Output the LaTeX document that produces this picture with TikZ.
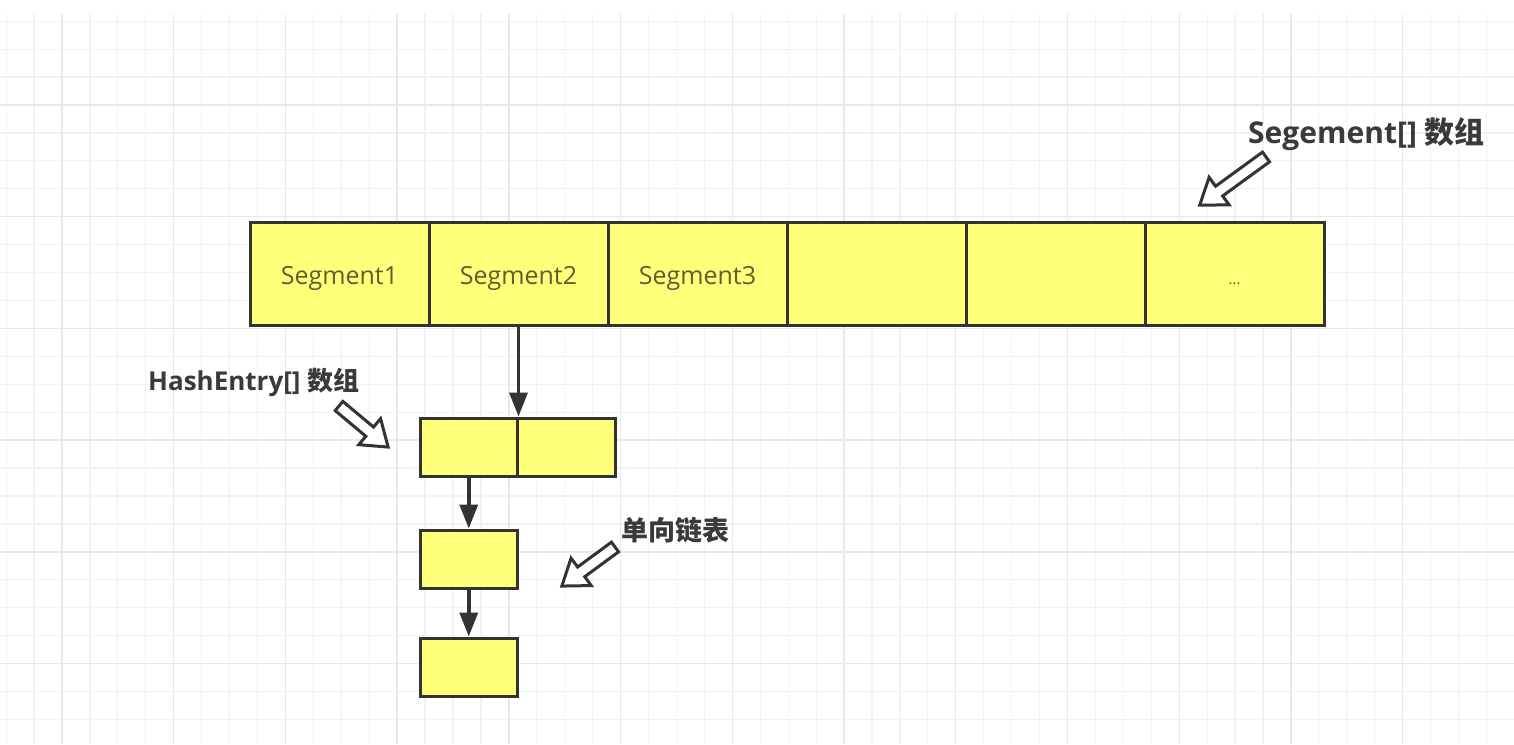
\documentclass[tikz,border=0pt]{standalone}
\usepackage{fontspec}
\setmainfont{Open Sans}
\newfontfamily\cjk{Noto Sans CJK SC}
\usetikzlibrary{arrows.meta}
\definecolor{cellfill}{HTML}{FFFF7A}
\definecolor{edge}{HTML}{333333}
\definecolor{celltxt}{HTML}{5E5E2E}
\definecolor{lbl}{HTML}{3A3A3A}
\definecolor{gminor}{HTML}{F2F2F2}
\definecolor{gmajor}{HTML}{E8E8E8}
\newcommand\blkarrow[4]{%
  \draw[blockarr, shift={(#1,#2)}, rotate=#3]
    (0,6) -- ({#4-24},6) -- ({#4-24},17) -- (#4,0) -- ({#4-24},-17) -- ({#4-24},-6) -- (0,-6) -- cycle;}
\tikzset{
  cell/.style={draw=edge, fill=cellfill, line width=3pt, minimum width=179pt, minimum height=103pt, inner sep=0pt},
  smallcell/.style={cell, minimum width=97.5pt, minimum height=58pt},
  celltext/.style={font=\fontsize{25}{28}\selectfont, text=celltxt, inner sep=0pt, anchor=base},
  lab/.style={text=lbl, inner sep=0pt, anchor=base west},
  conn/.style={draw=edge, line width=3.5pt, -{Triangle[length=24pt,width=18pt]}},
  blockarr/.style={draw=edge, fill=white, line width=3pt, line join=miter},
  minorgrid/.style={draw=gminor, line width=1.2pt},
  majorgrid/.style={draw=gmajor, line width=1.4pt},
}
\begin{document}
\begin{tikzpicture}[x=1pt, y=-1pt]
\fill[white] (0,0) rectangle (1514,744);
\useasboundingbox (0,0) rectangle (1514,744);
% grid
\begin{scope}
\clip (0,14) rectangle (1514,744);
\foreach \i in {-2,...,52} \draw[minorgrid] ({62+\i*27.93},14) -- ++(0,730);
\foreach \i in {-3,...,23} \draw[minorgrid] (0,{105+\i*27.93}) -- ++(1514,0);
\foreach \i in {0,...,13} \draw[majorgrid] ({62+\i*111.72},14) -- ++(0,730);
\foreach \i in {0,...,5} \draw[majorgrid] (0,{105+\i*111.72}) -- ++(1514,0);
\end{scope}
% segment array
\node[cell] (s1) at (339.5,273.5) {};
\node[cell] (s2) at (518.5,273.5) {};
\node[cell] (s3) at (697.5,273.5) {};
\node[cell] (s4) at (876.5,273.5) {};
\node[cell] (s5) at (1055.5,273.5) {};
\node[cell] (s6) at (1234.5,273.5) {};
\node[celltext] (t1) at (339.5,284) {Segment1};
\node[celltext] (t2) at (518.5,284) {Segment2};
\node[celltext] (t3) at (697.5,284) {Segment3};
\node[celltext, font=\fontsize{15}{16}\selectfont] (t6) at (1234.5,284) {...};
% hash entry array
\node[smallcell] (h1) at (468.75,447) {};
\node[smallcell] (h2) at (566.25,447) {};
% linked list
\node[smallcell] (l1) at (468.75,559) {};
\node[smallcell] (l2) at (468.75,667) {};
% connectors
\draw[conn] (s2.south) -- (s2.south |- h1.north);
\draw[conn] (h1.south) -- (l1.north);
\draw[conn] (l1.south) -- (l2.north);
% labels
\node[lab, font=\fontsize{30}{34}\selectfont\bfseries] (lseg) at (1248,143) {Segement[] {\cjk 数组}};
\node[lab, font=\fontsize{26}{30}\selectfont\bfseries] (lhash) at (148,390) {HashEntry[] {\cjk 数组}};
\node[lab, font=\fontsize{27}{30}\selectfont\bfseries\cjk] (llist) at (621,540) {单向链表};
% hollow pointer arrows
\blkarrow{1266}{157}{216}{82}
\blkarrow{339}{406}{-39.9}{64}
\blkarrow{615}{547}{216.3}{66}
\end{tikzpicture}
\end{document}
